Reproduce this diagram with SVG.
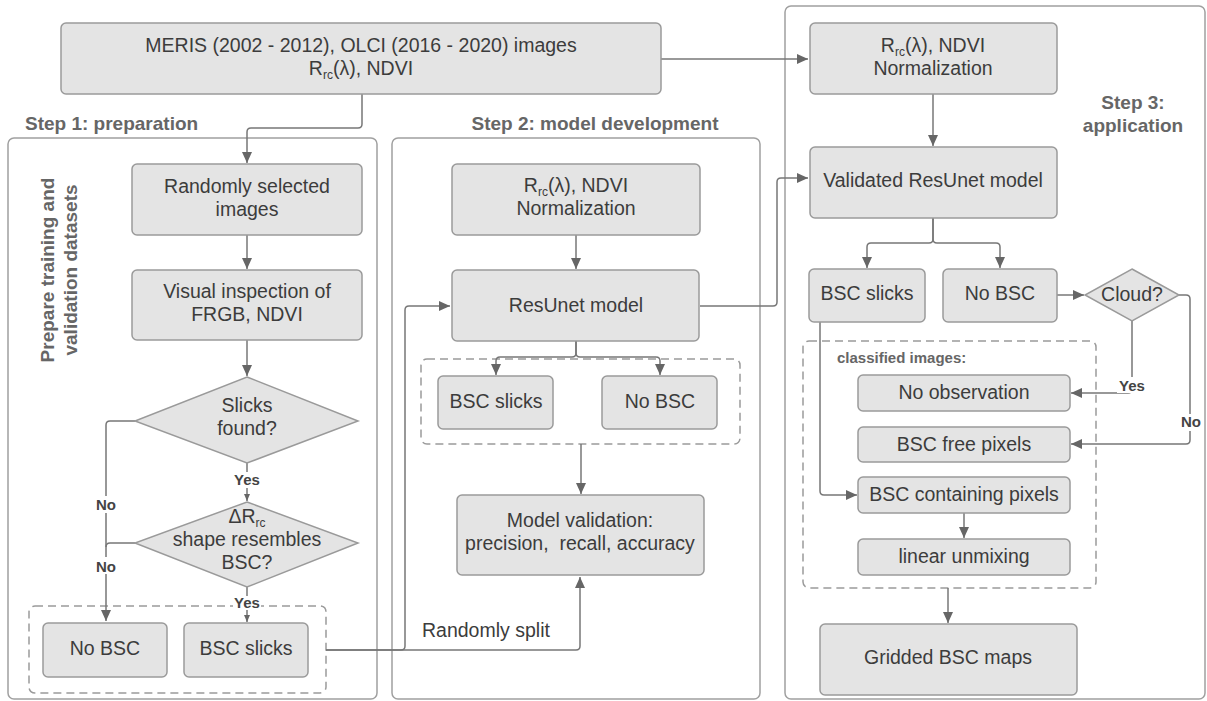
<svg xmlns="http://www.w3.org/2000/svg" width="1207" height="701" viewBox="0 0 1207 701">
<style>
.frame{fill:none;stroke:#a0a0a0;stroke-width:1.5}
.box{fill:#e4e4e4;stroke:#9a9a9a;stroke-width:1.5}
.dash{fill:none;stroke:#9a9a9a;stroke-width:1.5;stroke-dasharray:8 5}
.t{font-family:"Liberation Sans",Arial,sans-serif;font-size:19.5px;fill:#3c3c3c;text-anchor:middle}
.sub{font-size:12px}
.h{font-family:"Liberation Sans",Arial,sans-serif;font-size:19px;font-weight:bold;fill:#666;}
.lbl{font-family:"Liberation Sans",Arial,sans-serif;font-size:15px;font-weight:bold;fill:#444;text-anchor:middle}
.c{fill:none;stroke:#777;stroke-width:1.5}
.bg{fill:#fff}
</style>
<defs>
<marker id="a" markerUnits="userSpaceOnUse" markerWidth="12" markerHeight="12" refX="11" refY="6" orient="auto"><path d="M0,1 L11,6 L0,11 z" fill="#666"/></marker>
<marker id="s" markerUnits="userSpaceOnUse" markerWidth="8" markerHeight="8" refX="7" refY="4" orient="auto"><path d="M0,1 L7,4 L0,7 z" fill="#666"/></marker>
</defs>

<g id="frames">
<rect class="frame" x="8" y="138" width="369" height="561" rx="6"/>
<rect class="frame" x="392" y="138" width="368" height="561" rx="6"/>
<rect class="frame" x="785" y="6" width="420" height="693" rx="6"/>
<rect class="dash" x="29" y="606" width="297" height="87" rx="6"/>
<rect class="dash" x="421" y="359" width="319" height="85" rx="6"/>
<rect class="dash" x="803" y="341" width="293" height="247" rx="6"/>
</g>

<g id="titles">
<text class="h" x="25" y="130">Step 1: preparation</text>
<text class="h" x="595" y="130" text-anchor="middle">Step 2: model development</text>
<text class="h" x="1133" y="109" text-anchor="middle">Step 3:</text>
<text class="h" x="1133" y="132" text-anchor="middle">application</text>
<text class="h" transform="translate(54,270) rotate(-90)" text-anchor="middle">Prepare training and</text>
<text class="h" transform="translate(77,270) rotate(-90)" text-anchor="middle">validation datasets</text>
<text class="h" x="837" y="363" style="font-size:15px">classified images:</text>
</g>

<g id="connectors">
<path class="c" d="M661,59 H808" marker-end="url(#a)"/>
<path class="c" d="M362,94 V124 Q362,128 358,128 H251 Q247,128 247,132 V163" marker-end="url(#a)"/>
<path class="c" d="M247,235 V269" marker-end="url(#a)"/>
<path class="c" d="M247,340 V376" marker-end="url(#a)"/>
<path class="c" d="M247,463 V501" marker-end="url(#s)"/>
<path class="c" d="M247,587 V622" marker-end="url(#s)"/>
<path class="c" d="M135,421 H110 Q106,421 106,425 V621" marker-end="url(#a)"/>
<path class="c" d="M135,543 H110 Q106,543 106,547"/>
<path class="c" d="M326,650 H401 Q405,650 405,646 V310 Q405,306 409,306 H450" marker-end="url(#a)"/>
<path class="c" d="M326,650 H576 Q580,650 580,646 V577" marker-end="url(#a)"/>
<path class="c" d="M576,235 V269" marker-end="url(#a)"/>
<path class="c" d="M576,341 V353 Q576,357 572,357 H500 Q496,357 496,361 V375" marker-end="url(#a)"/>
<path class="c" d="M576,341 V353 Q576,357 580,357 H656 Q660,357 660,361 V375" marker-end="url(#a)"/>
<path class="c" d="M581,444 V494" marker-end="url(#a)"/>
<path class="c" d="M700,306 H773 Q777,306 777,302 V182 Q777,178 781,178 H808" marker-end="url(#a)"/>
<path class="c" d="M933,94 V146" marker-end="url(#a)"/>
<path class="c" d="M933,218 V239 Q933,243 929,243 H871 Q867,243 867,247 V268" marker-end="url(#a)"/>
<path class="c" d="M933,218 V239 Q933,243 937,243 H996 Q1000,243 1000,247 V268" marker-end="url(#a)"/>
<path class="c" d="M1057,295 H1084" marker-end="url(#a)"/>
<path class="c" d="M1132,321 V389 Q1132,393 1128,393 H1071" marker-end="url(#a)"/>
<path class="c" d="M1179,295 H1186 Q1190,295 1190,299 V440 Q1190,444 1186,444 H1071" marker-end="url(#a)"/>
<path class="c" d="M820,322 V491 Q820,495 824,495 H857" marker-end="url(#a)"/>
<path class="c" d="M964,513 V538" marker-end="url(#a)"/>
<path class="c" d="M948,588 V623" marker-end="url(#a)"/>
<rect class="bg" x="233" y="472" width="28" height="16"/>
<text class="lbl" x="247" y="485">Yes</text>
<rect class="bg" x="233" y="596" width="28" height="14"/>
<text class="lbl" x="247" y="608">Yes</text>
<rect class="bg" x="94" y="496" width="24" height="17"/>
<text class="lbl" x="106" y="510">No</text>
<rect class="bg" x="94" y="557" width="24" height="17"/>
<text class="lbl" x="106" y="572">No</text>
<rect class="bg" x="1117" y="377" width="30" height="16"/>
<text class="lbl" x="1132" y="391">Yes</text>
<rect class="bg" x="1180" y="414" width="22" height="17"/>
<text class="lbl" x="1191" y="427">No</text>
<text class="t" x="422" y="637" style="text-anchor:start">Randomly split</text>
</g>

<g id="n-input">
<rect class="box" x="61" y="23" width="600" height="71" rx="5"/>
<text class="t" x="361" y="52">MERIS (2002 - 2012), OLCI (2016 - 2020) images</text>
<text class="t" x="361" y="75">R<tspan class="sub" dy="4">rc</tspan><tspan dy="-4">(λ), NDVI</tspan></text>
</g>
<g id="n-random">
<rect class="box" x="132" y="164" width="230" height="71" rx="5"/>
<text class="t" x="247" y="193">Randomly selected</text>
<text class="t" x="247" y="216">images</text>
</g>
<g id="n-visual">
<rect class="box" x="132" y="270" width="230" height="70" rx="5"/>
<text class="t" x="247" y="298">Visual inspection of</text>
<text class="t" x="247" y="321">FRGB, NDVI</text>
</g>
<g id="n-slicks">
<polygon class="box" points="247,377 358,421 247,463 135,421"/>
<text class="t" x="247" y="412">Slicks</text>
<text class="t" x="247" y="435">found?</text>
</g>
<g id="n-shape">
<polygon class="box" points="247,502 358,543 247,587 135,543"/>
<text class="t" x="247" y="523">ΔR<tspan class="sub" dy="4">rc</tspan></text>
<text class="t" x="247" y="546">shape resembles</text>
<text class="t" x="247" y="569">BSC?</text>
</g>
<g id="n-nobsc1">
<rect class="box" x="43" y="623" width="124" height="54" rx="5"/>
<text class="t" x="105" y="655">No BSC</text>
</g>
<g id="n-bsc1">
<rect class="box" x="184" y="623" width="124" height="54" rx="5"/>
<text class="t" x="246" y="655">BSC slicks</text>
</g>
<g id="n-norm2">
<rect class="box" x="452" y="164" width="248" height="71" rx="5"/>
<text class="t" x="576" y="192">R<tspan class="sub" dy="4">rc</tspan><tspan dy="-4">(λ), NDVI</tspan></text>
<text class="t" x="576" y="215">Normalization</text>
</g>
<g id="n-resunet">
<rect class="box" x="452" y="270" width="247" height="71" rx="5"/>
<text class="t" x="576" y="312">ResUnet model</text>
</g>
<g id="n-bsc2">
<rect class="box" x="438" y="376" width="115" height="53" rx="5"/>
<text class="t" x="496" y="408">BSC slicks</text>
</g>
<g id="n-nobsc2">
<rect class="box" x="602" y="376" width="115" height="53" rx="5"/>
<text class="t" x="660" y="408">No BSC</text>
</g>
<g id="n-valid">
<rect class="box" x="457" y="495" width="247" height="80" rx="5"/>
<text class="t" x="580" y="527">Model validation:</text>
<text class="t" x="580" y="550" style="white-space:pre">precision,  recall, accuracy</text>
</g>
<g id="n-norm3">
<rect class="box" x="810" y="23" width="247" height="71" rx="5"/>
<text class="t" x="933" y="52">R<tspan class="sub" dy="4">rc</tspan><tspan dy="-4">(λ), NDVI</tspan></text>
<text class="t" x="933" y="75">Normalization</text>
</g>
<g id="n-validated">
<rect class="box" x="810" y="147" width="247" height="71" rx="5"/>
<text class="t" x="933" y="187">Validated ResUnet model</text>
</g>
<g id="n-bsc3">
<rect class="box" x="809" y="269" width="116" height="53" rx="5"/>
<text class="t" x="867" y="300">BSC slicks</text>
</g>
<g id="n-nobsc3">
<rect class="box" x="943" y="269" width="114" height="53" rx="5"/>
<text class="t" x="1000" y="300">No BSC</text>
</g>
<g id="n-cloud">
<polygon class="box" points="1132,269 1179,295 1132,321 1085,295"/>
<text class="t" x="1132" y="301">Cloud?</text>
</g>
<g id="n-noobs">
<rect class="box" x="858" y="375" width="212" height="36" rx="5"/>
<text class="t" x="964" y="399">No observation</text>
</g>
<g id="n-free">
<rect class="box" x="858" y="427" width="212" height="35" rx="5"/>
<text class="t" x="964" y="451">BSC free pixels</text>
</g>
<g id="n-contain">
<rect class="box" x="858" y="477" width="212" height="36" rx="5"/>
<text class="t" x="964" y="501">BSC containing pixels</text>
</g>
<g id="n-unmix">
<rect class="box" x="858" y="539" width="212" height="36" rx="5"/>
<text class="t" x="964" y="563">linear unmixing</text>
</g>
<g id="n-maps">
<rect class="box" x="820" y="624" width="257" height="71" rx="5"/>
<text class="t" x="948" y="664">Gridded BSC maps</text>
</g>
</svg>
